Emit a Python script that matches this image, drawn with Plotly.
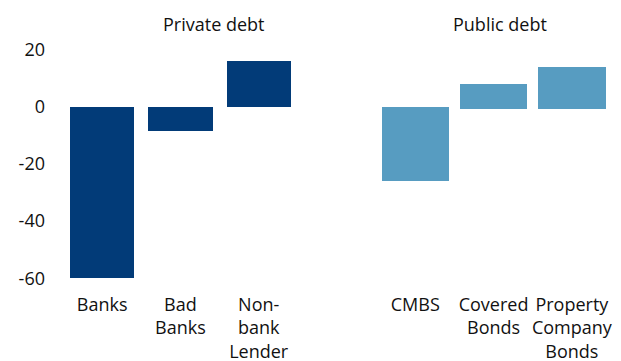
import plotly.graph_objects as go

# Change in lending by source
private_labels = ["Banks", "Bad<br>Banks", "Non-<br>bank<br>Lender"]
private_values = [-60.0, -8.5, 15.8]

public_labels = ["CMBS", "Covered<br>Bonds", "Property<br>Company<br>Bonds"]
public_start = [0.0, -0.8, -0.8]
public_end = [-26.0, 7.9, 13.9]

y_ticks = [20, 0, -20, -40, -60]

DARK = "#023B78"
LIGHT = "#579CC1"
FONT = "Open Sans"
TEXT = "#111111"

# one empty slot separates the two groups
private_x = list(range(len(private_labels)))
public_x = [len(private_labels) + 1 + i for i in range(len(public_labels))]

fig = go.Figure()
fig.add_trace(go.Bar(
    x=private_x, y=private_values, marker_color=DARK,
    marker_line_width=0, width=0.82, showlegend=False,
))
fig.add_trace(go.Bar(
    x=public_x, y=[e - s for s, e in zip(public_start, public_end)],
    base=public_start, marker_color=LIGHT,
    marker_line_width=0, width=0.86, showlegend=False,
))

# group headings above the plot area
for text, xpos in (("Private debt", 1.42), ("Public debt", 5.08)):
    fig.add_annotation(text=text, x=xpos, y=1.046, xref="x", yref="paper",
                       yanchor="middle", showarrow=False,
                       font=dict(family=FONT, size=18, color=TEXT))

fig.update_layout(
    width=621, height=361,
    margin=dict(l=63, r=10, t=35, b=77),
    paper_bgcolor="white", plot_bgcolor="white",
    font=dict(family=FONT, size=18, color=TEXT),
    bargap=0,
    xaxis=dict(
        range=[-0.5, 6.5],
        tickmode="array",
        tickvals=private_x + public_x,
        ticktext=private_labels + public_labels,
        showgrid=False, zeroline=False, showline=False, ticks="",
        ticklabelstandoff=8, automargin=False,
    ),
    yaxis=dict(
        range=[-62, 25],
        tickmode="array",
        tickvals=y_ticks,
        ticktext=[str(v) for v in y_ticks],
        showgrid=False, zeroline=False, showline=False, ticks="",
        ticklabelstandoff=17, automargin=False,
    ),
)

fig.write_html("out.html")
